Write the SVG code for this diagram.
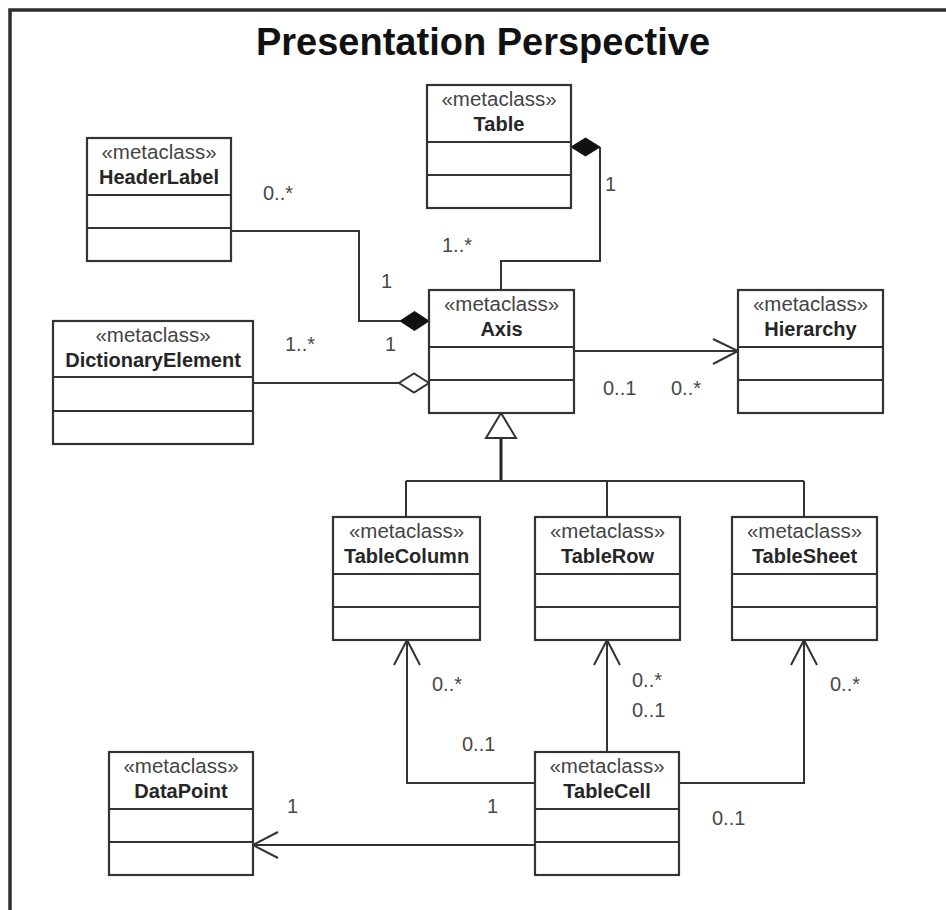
<svg xmlns="http://www.w3.org/2000/svg" width="946" height="910" viewBox="0 0 946 910">
  <style>
    .box { fill: #ffffff; stroke: #333333; stroke-width: 2.2; }
    .div { stroke: #333333; stroke-width: 2.2; }
    .stereo { font-family: "Liberation Sans", Arial, sans-serif; font-size: 20.5px; fill: #444444; text-anchor: middle; }
    .name { font-family: "Liberation Sans", Arial, sans-serif; font-size: 20px; font-weight: bold; fill: #262626; text-anchor: middle; }
    .mult { font-family: "Liberation Sans", Arial, sans-serif; font-size: 20px; fill: #484848; }
    .line { fill: none; stroke: #333333; stroke-width: 2; }
    .head { fill: none; stroke: #333333; stroke-width: 2; }
    .title { font-family: "Liberation Sans", Arial, sans-serif; font-size: 38px; font-weight: bold; fill: #111111; text-anchor: middle; }
  </style>

  <rect x="0" y="0" width="946" height="910" fill="#ffffff"/>
  <!-- frame -->
  <path d="M10 910 V10 H946" fill="none" stroke="#2e2e2e" stroke-width="3.5"/>

  <text class="title" x="483" y="55">Presentation Perspective</text>

  <!-- connectors -->
  <g id="connectors">
    <!-- Table composition -->
    <path class="line" d="M600 147 V261 H501 V290"/>
    <polygon points="571,147 585.5,138 600,147 585.5,156" fill="#111111" stroke="#111111" stroke-width="1"/>
    <!-- HeaderLabel composition -->
    <path class="line" d="M231 231 H359 V321 H400"/>
    <polygon points="429,321 414.5,311.5 400,321 414.5,330.5" fill="#111111" stroke="#111111" stroke-width="1"/>
    <!-- DictionaryElement aggregation -->
    <path class="line" d="M253 383 H399"/>
    <polygon points="429,383 414,373.5 399,383 414,392.5" fill="#ffffff" stroke="#333333" stroke-width="2"/>
    <!-- Axis to Hierarchy -->
    <path class="line" d="M574 351 H738"/>
    <polyline class="head" points="713,339 738,351 713,364"/>
    <!-- generalization -->
    <path d="M501 438 V481" fill="none" stroke="#222222" stroke-width="3"/>
    <path class="line" d="M406 481 H804 M406 481 V517 M607 481 V517 M804 481 V517"/>
    <polygon points="501,413 486,438 516,438" fill="#ffffff" stroke="#333333" stroke-width="2"/>
    <!-- TableCell to TableColumn -->
    <path class="line" d="M535 783 H407 V640"/>
    <polyline class="head" points="394,665 407,640 420,665"/>
    <!-- TableCell to TableRow -->
    <path class="line" d="M607 752 V640"/>
    <polyline class="head" points="594,665 607,640 620,665"/>
    <!-- TableCell to TableSheet -->
    <path class="line" d="M679 783 H804 V640"/>
    <polyline class="head" points="791,665 804,640 817,665"/>
    <!-- TableCell to DataPoint -->
    <path class="line" d="M535 845 H253"/>
    <polyline class="head" points="278,832 253,845 278,858"/>
  </g>

  <!-- multiplicities -->
  <g id="labels">
    <text class="mult" x="263" y="200">0..*</text>
    <text class="mult" x="381" y="288">1</text>
    <text class="mult" x="605" y="191">1</text>
    <text class="mult" x="442" y="252">1..*</text>
    <text class="mult" x="285" y="351">1..*</text>
    <text class="mult" x="385" y="351">1</text>
    <text class="mult" x="603" y="395">0..1</text>
    <text class="mult" x="671" y="395">0..*</text>
    <text class="mult" x="432" y="691">0..*</text>
    <text class="mult" x="462" y="751">0..1</text>
    <text class="mult" x="287" y="813">1</text>
    <text class="mult" x="487" y="813">1</text>
    <text class="mult" x="632" y="687">0..*</text>
    <text class="mult" x="632" y="717">0..1</text>
    <text class="mult" x="830" y="691">0..*</text>
    <text class="mult" x="712" y="825">0..1</text>
  </g>

  <g id="Table">
    <rect class="box" x="427" y="85" width="144" height="123"/>
    <path class="div" d="M427 142 H571 M427 175 H571"/>
    <text class="stereo" x="499" y="106">«metaclass»</text>
    <text class="name" x="499" y="131">Table</text>
  </g>

  <g id="HeaderLabel">
    <rect class="box" x="87" y="138" width="144" height="123"/>
    <path class="div" d="M87 195 H231 M87 228 H231"/>
    <text class="stereo" x="159" y="159">«metaclass»</text>
    <text class="name" x="159" y="184">HeaderLabel</text>
  </g>

  <g id="Axis">
    <rect class="box" x="429" y="290" width="145" height="123"/>
    <path class="div" d="M429 347 H574 M429 380 H574"/>
    <text class="stereo" x="501.5" y="311">«metaclass»</text>
    <text class="name" x="501.5" y="336">Axis</text>
  </g>

  <g id="Hierarchy">
    <rect class="box" x="738" y="290" width="145" height="123"/>
    <path class="div" d="M738 347 H883 M738 380 H883"/>
    <text class="stereo" x="810.5" y="311">«metaclass»</text>
    <text class="name" x="810.5" y="336">Hierarchy</text>
  </g>

  <g id="DictionaryElement">
    <rect class="box" x="53" y="321" width="200" height="123"/>
    <path class="div" d="M53 377 H253 M53 411 H253"/>
    <text class="stereo" x="153" y="342">«metaclass»</text>
    <text class="name" x="153" y="367">DictionaryElement</text>
  </g>

  <g id="TableColumn">
    <rect class="box" x="333" y="517" width="147" height="123"/>
    <path class="div" d="M333 574 H480 M333 607 H480"/>
    <text class="stereo" x="406.5" y="538">«metaclass»</text>
    <text class="name" x="406.5" y="563">TableColumn</text>
  </g>

  <g id="TableRow">
    <rect class="box" x="535" y="517" width="145" height="123"/>
    <path class="div" d="M535 574 H680 M535 607 H680"/>
    <text class="stereo" x="607.5" y="538">«metaclass»</text>
    <text class="name" x="607.5" y="563">TableRow</text>
  </g>

  <g id="TableSheet">
    <rect class="box" x="732" y="517" width="145" height="123"/>
    <path class="div" d="M732 574 H877 M732 607 H877"/>
    <text class="stereo" x="804.5" y="538">«metaclass»</text>
    <text class="name" x="804.5" y="563">TableSheet</text>
  </g>

  <g id="DataPoint">
    <rect class="box" x="109" y="752" width="144" height="123"/>
    <path class="div" d="M109 809 H253 M109 842 H253"/>
    <text class="stereo" x="181" y="773">«metaclass»</text>
    <text class="name" x="181" y="798">DataPoint</text>
  </g>

  <g id="TableCell">
    <rect class="box" x="535" y="752" width="144" height="123"/>
    <path class="div" d="M535 809 H679 M535 842 H679"/>
    <text class="stereo" x="607" y="773">«metaclass»</text>
    <text class="name" x="607" y="798">TableCell</text>
  </g>
</svg>
